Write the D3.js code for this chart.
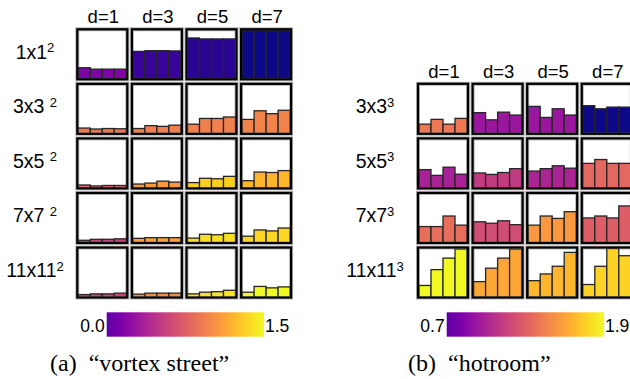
<!DOCTYPE html>
<html>
<head>
<meta charset="utf-8">
<script src="https://cdn.jsdelivr.net/npm/d3@7"></script>
<style>
  body { margin: 0; background: #fff; }
  svg { display: block; }
</style>
</head>
<body>
<div id="chart"></div>
<script>
// Column labels (stencil size d) shared by both panels
const colLabels = ["d=1", "d=3", "d=5", "d=7"];

// Left panel: "vortex street"
const leftRowLabels = ["1x1", "3x3 ", "5x5 ", "7x7 ", "11x11"];
const leftExponent = "2";
// bar heights per cell, as a fraction of the cell height
const leftBars = [
  [[0.22, 0.19, 0.19, 0.19], [0.56, 0.575, 0.575, 0.57], [0.84, 0.82, 0.82, 0.82], [1.0, 1.0, 1.0, 1.0]],
  [[0.10, 0.08, 0.09, 0.085], [0.09, 0.15, 0.135, 0.16], [0.18, 0.30, 0.30, 0.33], [0.28, 0.46, 0.40, 0.47]],
  [[0.05, 0.03, 0.04, 0.04], [0.07, 0.09, 0.13, 0.11], [0.10, 0.19, 0.18, 0.23], [0.14, 0.32, 0.31, 0.35]],
  [[0.035, 0.055, 0.055, 0.065], [0.075, 0.09, 0.09, 0.09], [0.08, 0.16, 0.15, 0.18], [0.12, 0.25, 0.23, 0.29]],
  [[0.04, 0.055, 0.055, 0.07], [0.05, 0.07, 0.07, 0.07], [0.055, 0.09, 0.10, 0.13], [0.09, 0.21, 0.18, 0.20]]
];
// position of each cell's colour on the plasma map
const leftColorT = [
  [0.25, 0.08, 0.05, 0.0],
  [0.66, 0.68, 0.69, 0.70],
  [0.60, 0.76, 0.90, 0.84],
  [0.48, 0.78, 0.94, 0.92],
  [0.49, 0.73, 0.95, 1.0]
];
const leftRange = [0.0, 1.5];
const leftCaption = "(a)\u00a0\u00a0\u201cvortex street\u201d";

// Right panel: "hotroom"
const rightRowLabels = ["3x3", "5x5", "7x7", "11x11"];
const rightExponent = "3";
const rightBars = [
  [[0.18, 0.28, 0.18, 0.30], [0.42, 0.27, 0.43, 0.37], [0.55, 0.32, 0.50, 0.37], [0.565, 0.50, 0.535, 0.535]],
  [[0.37, 0.25, 0.42, 0.275], [0.30, 0.27, 0.31, 0.39], [0.34, 0.39, 0.45, 0.40], [0.50, 0.58, 0.50, 0.50]],
  [[0.32, 0.32, 0.54, 0.35], [0.42, 0.39, 0.44, 0.36], [0.35, 0.54, 0.49, 0.63], [0.50, 0.54, 0.50, 0.75]],
  [[0.23, 0.56, 0.80, 0.99], [0.31, 0.59, 0.80, 0.99], [0.33, 0.47, 0.63, 0.92], [0.25, 0.63, 1.0, 0.85]]
];
const rightColorT = [
  [0.67, 0.33, 0.33, 0.0],
  [0.37, 0.46, 0.38, 0.61],
  [0.63, 0.52, 0.76, 0.58],
  [1.0, 0.80, 0.84, 0.91]
];
const rightRange = [0.7, 1.9];
const rightCaption = "(b)\u00a0\u00a0\u201chotroom\u201d";

// colour bar covers this part of the plasma map
const barT = [0.17, 1.0];

const W = 630, H = 379;
const sansFont = "'Liberation Sans', Arial, sans-serif";
const serifFont = "'Liberation Serif', 'Times New Roman', serif";

const svg = d3.select("#chart")
  .append("svg")
  .attr("width", W)
  .attr("height", H);

const defs = svg.append("defs");

// gradient for colour bars
const grad = defs.append("linearGradient")
  .attr("id", "plasmaGrad")
  .attr("x1", "0%").attr("x2", "100%")
  .attr("y1", "0%").attr("y2", "0%");
d3.range(0, 1.0001, 0.05).forEach(s => {
  grad.append("stop")
    .attr("offset", (s * 100) + "%")
    .attr("stop-color", d3.interpolatePlasma(barT[0] + s * (barT[1] - barT[0])));
});

function drawPanel(id, opts) {
  const g = svg.append("g");

  const x = d3.scaleBand()
    .domain(colLabels)
    .range(opts.xRange)
    .paddingInner(0.084)
    .paddingOuter(0);

  const y = d3.scaleBand()
    .domain(opts.rowLabels)
    .range(opts.yRange)
    .paddingInner(0.084)
    .paddingOuter(0);

  const bw = x.bandwidth(), bh = y.bandwidth();

  // column headers
  g.selectAll(".colLabel")
    .data(colLabels)
    .enter()
    .append("text")
    .attr("x", d => x(d) + bw / 2 + 1)
    .attr("y", opts.yRange[0] - 6)
    .attr("text-anchor", "middle")
    .style("font-family", sansFont)
    .style("font-size", "18.5px")
    .text(d => d);

  // row headers with superscript
  const rl = g.selectAll(".rowLabel")
    .data(opts.rowLabels)
    .enter()
    .append("text")
    .attr("x", opts.labelX)
    .attr("y", d => y(d) + bh / 2 + 4.5)
    .attr("text-anchor", "middle")
    .style("font-family", sansFont)
    .style("font-size", "19.5px")
    .style("white-space", "pre")
    .attr("xml:space", "preserve");
  rl.append("tspan").text(d => d);
  rl.append("tspan")
    .attr("dy", -6.5)
    .style("font-size", "13px")
    .text(opts.exponent);

  // cells
  opts.rowLabels.forEach((rowName, ri) => {
    colLabels.forEach((colName, ci) => {
      const cx = x(colName), cy = y(rowName);
      const cell = g.append("g");
      const clipId = id + "-clip-" + ri + "-" + ci;
      defs.append("clipPath").attr("id", clipId)
        .append("rect")
        .attr("x", cx + 1).attr("y", cy + 1)
        .attr("width", bw - 2).attr("height", bh - 2);

      // soft grey halo behind the frame
      cell.append("rect")
        .attr("x", cx).attr("y", cy)
        .attr("width", bw).attr("height", bh)
        .attr("fill", "#fff")
        .attr("stroke", "#b4b4b4")
        .attr("stroke-width", 4);

      const bx = d3.scaleBand()
        .domain(d3.range(4))
        .range([cx + 1, cx + bw - 1]);
      const by = d3.scaleLinear()
        .domain([0, 1])
        .range([cy + bh - 1, cy + 1]);

      const color = d3.interpolatePlasma(opts.colorT[ri][ci]);
      cell.append("g")
        .attr("clip-path", "url(#" + clipId + ")")
        .selectAll("rect")
        .data(opts.bars[ri][ci])
        .enter()
        .append("rect")
        .attr("x", (d, i) => bx(i))
        .attr("y", d => by(d))
        .attr("width", bx.bandwidth())
        .attr("height", d => by(0) - by(d) + 2)
        .attr("fill", color)
        .attr("stroke", "#262626")
        .attr("stroke-width", 1.3);

      cell.append("rect")
        .attr("x", cx).attr("y", cy)
        .attr("width", bw).attr("height", bh)
        .attr("fill", "none")
        .attr("stroke", "#000")
        .attr("stroke-width", 2.2);
    });
  });

  // colour bar
  const cb = d3.scaleLinear()
    .domain(opts.range)
    .range(opts.cbRange);
  g.append("rect")
    .attr("x", cb(opts.range[0]))
    .attr("y", 312.3)
    .attr("width", cb(opts.range[1]) - cb(opts.range[0]))
    .attr("height", 24.4)
    .attr("fill", "url(#plasmaGrad)");
  g.append("text")
    .attr("x", cb(opts.range[0]) - 2)
    .attr("y", 331.5)
    .attr("text-anchor", "end")
    .style("font-family", sansFont)
    .style("font-size", "17.5px")
    .text(d3.format(".1f")(opts.range[0]));
  g.append("text")
    .attr("x", cb(opts.range[1]) + 1)
    .attr("y", 331.5)
    .attr("text-anchor", "start")
    .style("font-family", sansFont)
    .style("font-size", "17.5px")
    .text(d3.format(".1f")(opts.range[1]));

  // caption
  g.append("text")
    .attr("x", opts.captionX)
    .attr("y", 371)
    .style("font-family", serifFont)
    .style("font-size", "24px")
    .text(opts.caption);
}

drawPanel("left", {
  rowLabels: leftRowLabels,
  exponent: leftExponent,
  bars: leftBars,
  colorT: leftColorT,
  range: leftRange,
  caption: leftCaption,
  xRange: [77.3, 291.1],
  yRange: [29.3, 297.5],
  labelX: 35,
  cbRange: [106.7, 264],
  captionX: 50
});

drawPanel("right", {
  rowLabels: rightRowLabels,
  exponent: rightExponent,
  bars: rightBars,
  colorT: rightColorT,
  range: rightRange,
  caption: rightCaption,
  xRange: [418, 631.8],
  yRange: [83.8, 297.5],
  labelX: 375,
  cbRange: [446.7, 604],
  captionX: 408
});
</script>
</body>
</html>
